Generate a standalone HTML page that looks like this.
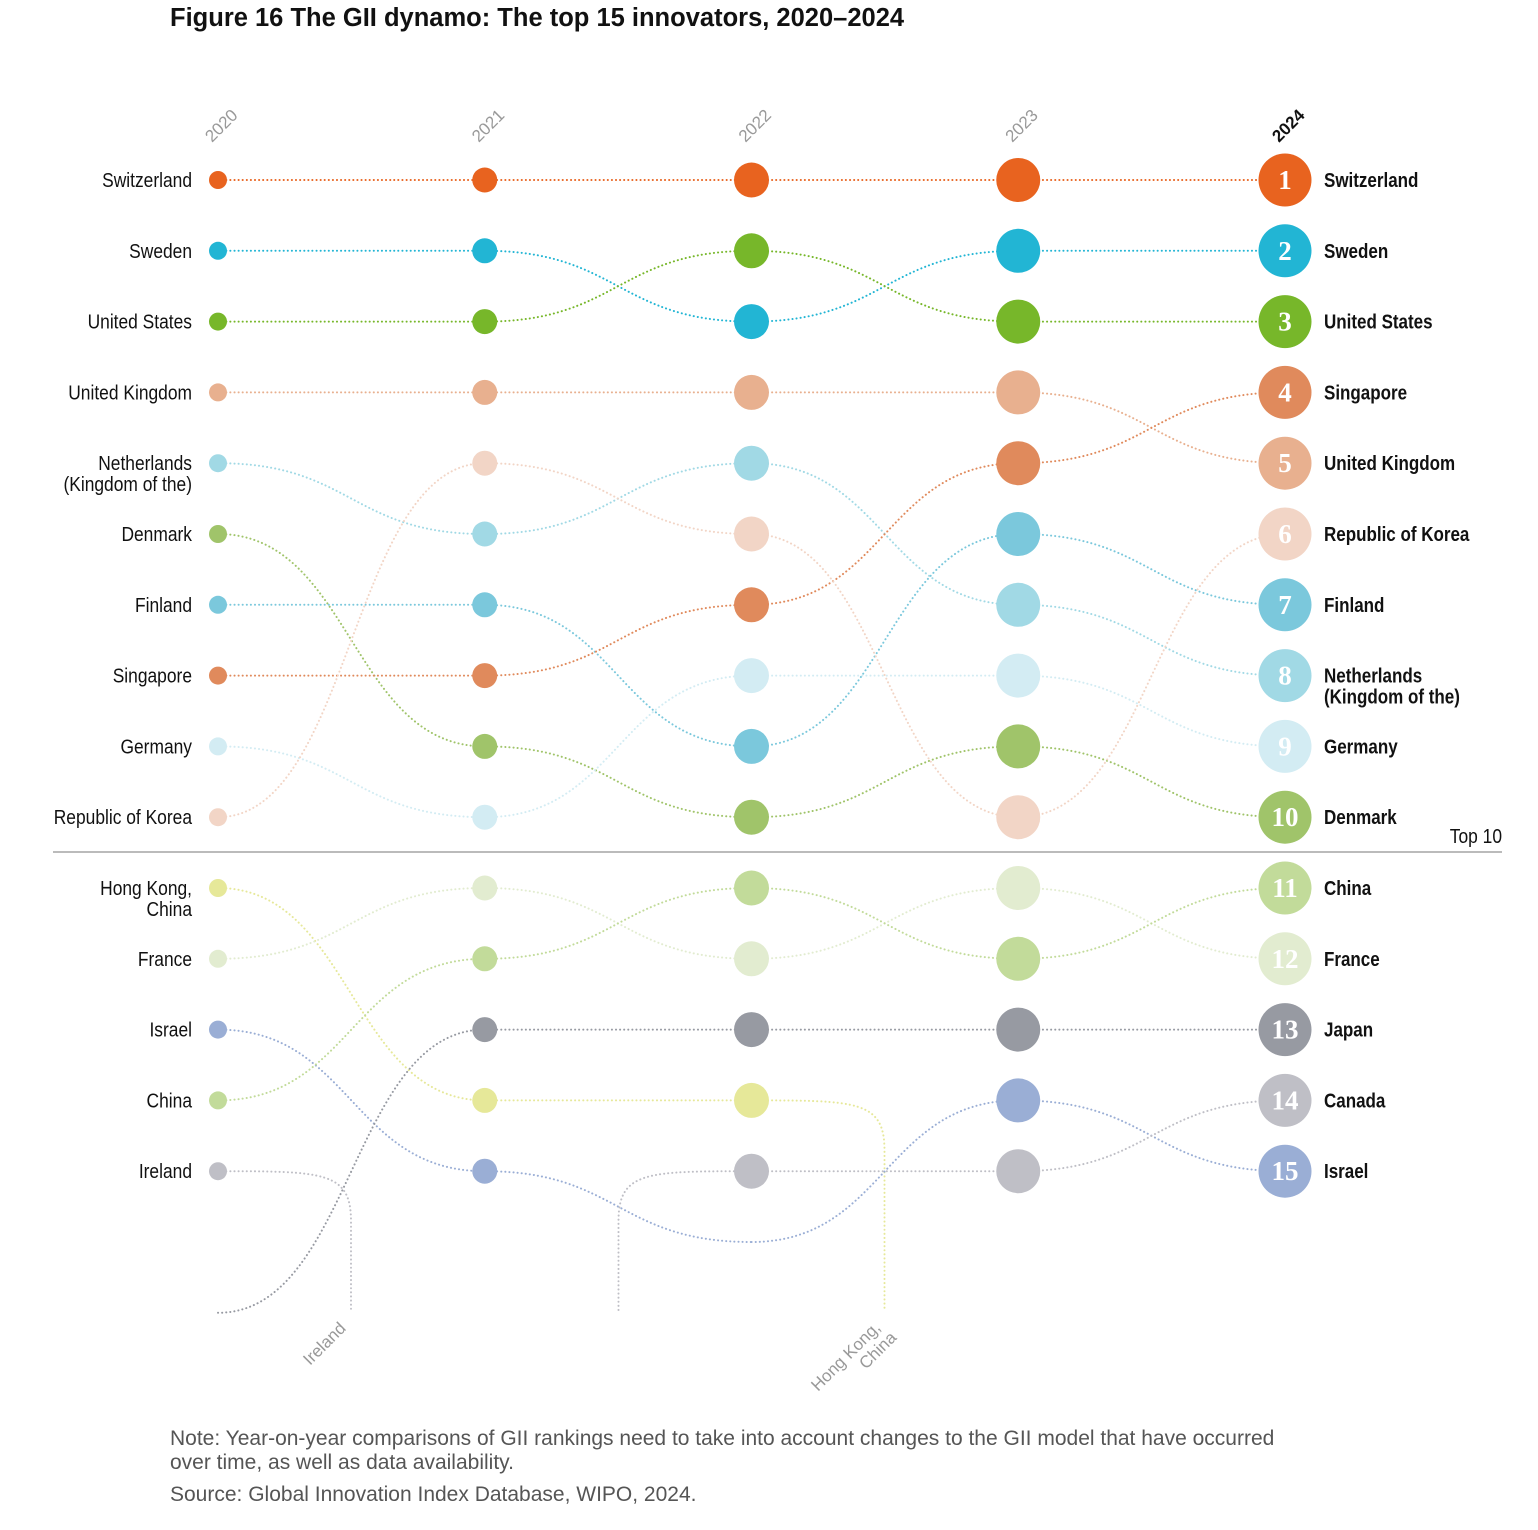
<!DOCTYPE html>
<html><head><meta charset="utf-8">
<style>
body{margin:0;background:#fff;}
svg{display:block;}
.lbl{font-family:"Liberation Sans",sans-serif;font-size:20px;fill:#111;}
.rlbl{font-family:"Liberation Sans",sans-serif;font-size:20px;font-weight:bold;fill:#111;}
.yr{font-family:"Liberation Sans",sans-serif;font-size:17px;fill:#999;}
.note{font-family:"Liberation Sans",sans-serif;font-size:21px;fill:#555;}
</style></head>
<body>
<svg id="chart" width="1538" height="1530" viewBox="0 0 1538 1530">
<text x="170" y="26" font-family="Liberation Sans,sans-serif" font-size="25.5" font-weight="bold" fill="#111">Figure 16 The GII dynamo: The top 15 innovators, 2020–2024</text>
<line x1="53" y1="852" x2="1502" y2="852" stroke="#bbb" stroke-width="2"/>
<text class="lbl" transform="translate(1502,843) scale(0.87,1)" text-anchor="end">Top 10</text>
<text class="yr" transform="translate(310,1366) rotate(-45)">Ireland</text>
<text class="yr" transform="translate(818,1392) rotate(-45)">Hong Kong,</text>
<text class="yr" transform="translate(866,1370) rotate(-45)">China</text>
<text class="note" x="170" y="1445">Note: Year-on-year comparisons of GII rankings need to take into account changes to the GII model that have occurred</text>
<text class="note" x="170" y="1469">over time, as well as data availability.</text>
<text class="note" x="170" y="1501">Source: Global Innovation Index Database, WIPO, 2024.</text>
<g id="lines"></g><g id="dots"></g><g id="labels"></g>
</svg>
<script>
const years = ["2020","2021","2022","2023","2024"];
const countries = ["Switzerland","Sweden","United States","United Kingdom","Netherlands (Kingdom of the)","Denmark","Finland","Singapore","Germany","Republic of Korea","Hong Kong, China","France","Israel","China","Ireland","Japan","Canada"];
const rank2020 = [1,2,3,4,5,6,7,8,9,10,11,12,13,14,15,17,null];
const rank2021 = [1,2,3,4,6,9,7,8,10,5,14,11,15,12,null,13,null];
const rank2022 = [1,3,2,4,5,10,9,7,8,6,14,12,16,11,null,13,15];
const rank2023 = [1,2,3,4,7,9,6,5,8,10,null,11,14,12,null,13,15];
const rank2024 = [1,2,3,5,8,10,7,4,9,6,null,12,15,11,null,13,14];
const colors = ["#e8631f","#22b5d4","#77b72a","#e8b08f","#a1d9e5","#a0c46a","#7bc8dc","#e08a5c","#d3ecf3","#f2d5c6","#e6e899","#e2ecd0","#9aaed5","#c2db9a","#bfbfc6","#979aa2","#bfbfc6"];
const ranks=[rank2020,rank2021,rank2022,rank2023,rank2024];
const NS="http://www.w3.org/2000/svg";
const xOf=i=>218+i*266.75;
const yOf=r=>180+(r-1)*70.8;
const radius=[9,12.5,17.5,22,26.5];
const L=document.getElementById('lines'),D=document.getElementById('dots'),T=document.getElementById('labels');
function mk(tag,attrs,parent){const e=document.createElementNS(NS,tag);for(const k in attrs)e.setAttribute(k,attrs[k]);parent.appendChild(e);return e;}
years.forEach((y,i)=>{
  const t=mk('text',{class:'yr',transform:`translate(${xOf(i)-6},${143}) rotate(-45)`},T);
  
  
  if(i===4){t.setAttribute('style','fill:#111;font-weight:bold');}
  t.textContent=y;
});
countries.forEach((c,ci)=>{
  let d="";
  for(let i=0;i<4;i++){
    const a=ranks[i][ci],b=ranks[i+1][ci];
    const x0=xOf(i),x1=xOf(i+1);
    if(a!=null&&b!=null){
      const y0=yOf(a),y1=yOf(b),m=(x0+x1)/2;
      d+=`M${x0},${y0} C${m},${y0} ${m},${y1} ${x1},${y1} `;
    }else if(a!=null&&a<=15&&b==null){
      const y0=yOf(a),xe=x0+133;
      d+=`M${x0},${y0} C${x0+105},${y0} ${xe},${y0} ${xe},${y0+50} L${xe},1310 `;
    }else if(a==null&&b!=null&&i===1){
      const y1=yOf(b),xs=x1-133;
      d+=`M${xs},1310 L${xs},${y1+50} C${xs},${y1} ${x1-105},${y1} ${x1},${y1} `;
    }
  }
  if(d){
    const p=mk('path',{d:d,fill:'none',stroke:colors[ci],'stroke-width':2,'stroke-dasharray':'0.1 4','stroke-linecap':'round'},L);
    
    
  }
  for(let i=0;i<5;i++){
    const r=ranks[i][ci];
    if(r==null||r>15)continue;
    const cc=mk('circle',{cx:xOf(i),cy:yOf(r),r:radius[i],fill:colors[ci]},D);
    
    
    if(i===4){
      const n=mk('text',{x:xOf(i),y:yOf(r)+9,'text-anchor':'middle','font-family':'Liberation Serif,serif','font-size':27,'font-weight':'bold',fill:'#fff'},D);
      
      
      n.textContent=r;
    }
  }
  const lines=c==="Netherlands (Kingdom of the)"?["Netherlands","(Kingdom of the)"]:c==="Hong Kong, China"?["Hong Kong,","China"]:[c];
  const r0=rank2020[ci];
  if(r0!=null&&r0<=15){
    const t=mk('text',{class:'lbl',transform:`translate(192,${yOf(r0)+7}) scale(0.87,1)`,'text-anchor':'end'},T);
    
    
    lines.forEach((s,k)=>{const ts=mk('tspan',{x:0,dy:k?21:0},t);ts.textContent=s;});
  }
  const r4=rank2024[ci];
  if(r4!=null&&r4<=15){
    const t=mk('text',{class:'rlbl',transform:`translate(1324,${yOf(r4)+7}) scale(0.85,1)`},T);
    
    
    lines.forEach((s,k)=>{const ts=mk('tspan',{x:0,dy:k?21:0},t);ts.textContent=s;});
  }
});
</script>
</body></html>
